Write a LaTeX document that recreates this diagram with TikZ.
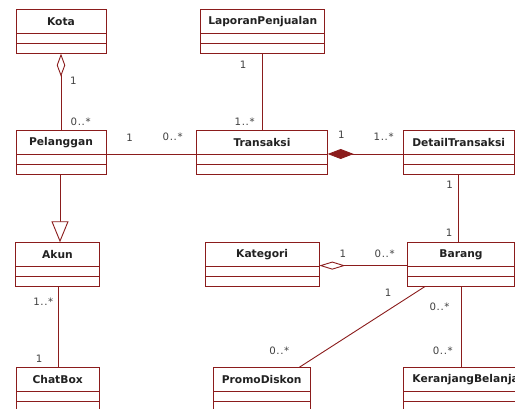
\documentclass[tikz,border=0pt]{standalone}
\usepackage{fontspec}
\setmainfont{DejaVu Sans}
\usetikzlibrary{arrows.meta,calc}

\definecolor{umlred}{RGB}{139,28,28}
\definecolor{titlecol}{RGB}{34,34,34}
\definecolor{multcol}{RGB}{64,64,64}

\tikzset{
  classbox/.style={draw=umlred, line width=0.9pt, rectangle, inner sep=0pt, outer sep=0pt,
    minimum height=44.2pt, fill=white},
  classline/.style={draw=umlred, line width=0.9pt},
  classtitle/.style={font=\fontsize{10.7}{12}\selectfont\bfseries, text=titlecol, inner sep=0pt},
  assoc/.style={draw=umlred, line width=0.9pt},
  mult/.style={font=\fontsize{10.2}{12}\selectfont\addfontfeature{LetterSpace=6}, text=multcol, inner sep=0pt},
}

% one class: name, left, top, right, title
\newcommand\umlclass[5]{%
  \pgfmathsetmacro\clw{#4-#2}%
  \node[classbox, minimum width=\clw pt, anchor=north west] (#1) at (#2,#3) {};
  \node[classtitle] (#1-title) at ([yshift=-12.1pt]#1.north) {#5};
  \draw[classline] ([yshift=-24.2pt]#1.north west) -- ([yshift=-24.2pt]#1.north east);
  \draw[classline] ([yshift=-34.2pt]#1.north west) -- ([yshift=-34.2pt]#1.north east);
}

\begin{document}
\begin{tikzpicture}[x=1pt, y=-1pt]
\useasboundingbox (0,0) rectangle (515,409);
\clip (0,0) rectangle (515,409);
\fill[white] (0,0) rectangle (515,409);

% classes
\umlclass{kota}{16}{9.5}{106}{Kota}
\umlclass{lap}{200.7}{9.5}{324.7}{LaporanPenjualan}
\umlclass{pelanggan}{16}{130.7}{106}{Pelanggan}
\umlclass{transaksi}{196.3}{130.7}{327.7}{Transaksi}
\umlclass{detail}{403}{130.7}{514.3}{DetailTransaksi}
\umlclass{akun}{15.7}{242.3}{99.3}{Akun}
\umlclass{kategori}{205}{242.3}{319.3}{Kategori}
\umlclass{barang}{407.7}{242.3}{514.3}{Barang}
\umlclass{chatbox}{16}{367.3}{99.3}{ChatBox}
\umlclass{promo}{213.3}{367.3}{310}{PromoDiskon}
\umlclass{keranjang}{403.3}{367.3}{528}{KeranjangBelanja}

% aggregation Kota <>-- Pelanggan
\draw[assoc, {Diamond[open, fill=white, length=23pt, width=8.5pt]}-] (kota.south) -- (pelanggan.north);
\node[mult] (m1) at (73.3,80.8) {1};
\node[mult] (m2) at (80.7,121.3) {0..*};

% Pelanggan -- Transaksi
\draw[assoc] ([yshift=-1.2pt]pelanggan.east) -- ([yshift=-1.2pt]transaksi.west);
\node[mult] (m3) at (129.5,138) {1};
\node[mult] (m4) at (172.7,137) {0..*};

% LaporanPenjualan -- Transaksi
\draw[assoc] (lap.south) -- (lap.south |- transaksi.north);
\node[mult] (m5) at (243,65) {1};
\node[mult] (m6) at (244.7,121.3) {1..*};

% composition Transaksi <#>-- DetailTransaksi
\draw[assoc, {Diamond[length=26pt, width=10pt, fill=umlred]}-] ([yshift=-1.2pt]transaksi.east) -- ([yshift=-1.2pt]detail.west);
\node[mult] (m7) at (341.3,135.2) {1};
\node[mult] (m8) at (383.7,137) {1..*};

% DetailTransaksi -- Barang
\draw[assoc] (detail.south) -- (detail.south |- barang.north);
\node[mult] (m9) at (449.7,185.2) {1};
\node[mult] (m10) at (449.2,233.2) {1};

% generalization Pelanggan --|> Akun
\draw[assoc, -{Triangle[open, fill=white, length=21pt, width=17pt]}] ([xshift=-1pt]pelanggan.south) -- ([xshift=-1pt]pelanggan.south |- akun.north);

% Akun -- ChatBox
\draw[assoc] ([xshift=0.8pt]akun.south) -- ([xshift=0.8pt]akun.south |- chatbox.north);
\node[mult] (m11) at (43.3,301.3) {1..*};
\node[mult] (m12) at (39.2,358.7) {1};

% aggregation Kategori <>-- Barang
\draw[assoc, {Diamond[open, fill=white, length=26pt, width=8pt]}-] ([yshift=-1.2pt]kategori.east) -- ([yshift=-1.2pt]barang.west);
\node[mult] (m13) at (342.8,253.8) {1};
\node[mult] (m14) at (384.7,253.8) {0..*};

% Barang -- PromoDiskon
\draw[assoc] ($(barang.south west)+(17.3,0)$) -- ($(promo.north east)+(-10.7,0)$);
\node[mult] (m15) at (388.2,292.8) {1};
\node[mult] (m16) at (279.3,350.8) {0..*};

% Barang -- KeranjangBelanja
\draw[assoc] ([xshift=0.7pt]barang.south) -- ([xshift=0.7pt]barang.south |- keranjang.north);
\node[mult] (m17) at (439.5,306.8) {0..*};
\node[mult] (m18) at (442.8,350.8) {0..*};
\end{tikzpicture}
\end{document}
